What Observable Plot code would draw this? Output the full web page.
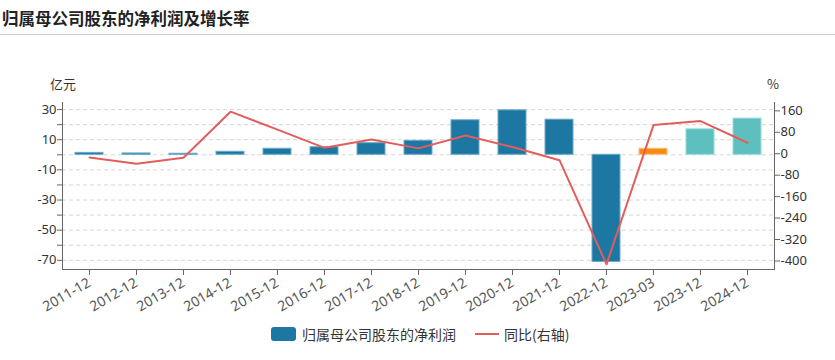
<!DOCTYPE html>
<html>
<head>
<meta charset="utf-8">
<script src="https://cdn.jsdelivr.net/npm/d3@7"></script>
<script src="https://cdn.jsdelivr.net/npm/@observablehq/plot@0.6"></script>
<style>
  html, body { margin: 0; padding: 0; background: #fff; }
  body { width: 835px; height: 360px; position: relative; overflow: hidden;
         font-family: "Noto Sans", "Noto Sans CJK SC", sans-serif; color: #333; }
  #title { position: absolute; left: 2px; top: 6px; font-size: 16.5px; font-weight: bold; color: #222;
           font-family: "Noto Sans CJK SC", sans-serif; }
  #rule { position: absolute; left: 0; top: 34px; width: 835px; height: 1px; background: #cfcfcf; }
  #chart { position: absolute; left: 0; top: 0; }
  .unit { position: absolute; font-size: 13px; color: #333; font-family: "Noto Sans CJK SC", sans-serif; }
  #legend { position: absolute; top: 324px; left: 0; width: 835px; height: 20px; font-size: 14px;
            font-family: "Noto Sans CJK SC", sans-serif; color: #333; }
  .lg { position: absolute; top: 0; line-height: 20px; }
</style>
</head>
<body>
<div id="chart"></div>
<div id="title">归属母公司股东的净利润及增长率</div>
<div id="rule"></div>
<div class="unit" style="left:50px; top:74px;">亿元</div>
<div class="unit" style="left:767px; top:74px;">%</div>
<div id="legend">
  <div class="lg" style="left:271px; top:3px; width:25px; height:14px; background:#1d77a3; border-radius:3px;"></div>
  <div class="lg" style="left:302px;">归属母公司股东的净利润</div>
  <div class="lg" style="left:475px; top:9px; width:24px; height:2px; background:#e35d5d;"></div>
  <div class="lg" style="left:504px;">同比(右轴)</div>
</div>
<script>
const categories = ["2011-12","2012-12","2013-12","2014-12","2015-12","2016-12","2017-12","2018-12","2019-12","2020-12","2021-12","2022-12","2023-03","2023-12","2024-12"];
const profit = [1.3, 0.9, 0.7, 2.0, 4.0, 5.0, 7.7, 9.3, 22.9, 29.5, 23.3, -71.1, 4.0, 16.9, 24.0];
const growth = [-14, -37, -15, 157, 90, 22, 53, 20, 68, 25, -24, -413, 107, 122, 41];
const kinds = ["actual","actual","actual","actual","actual","actual","actual","actual","actual","actual","actual","actual","quarter","forecast","forecast"];
const leftTicks = [-70,-60,-50,-40,-30,-20,-10,0,10,20,30];
const leftLabels = [30,10,-10,-30,-50,-70];
const rightTicks = [160,80,0,-80,-160,-240,-320,-400];

const fillOf = {actual: "#1d77a3", quarter: "#f78b10", forecast: "#5ebfbf"};
const strokeOf = {actual: "#6aa9c8", quarter: "#fbbf7a", forecast: "#9adada"};

// right axis (%) mapped into left-axis units
const K = 0.1778, OFF = 0.7;
const toLeft = r => OFF + K * r;
const fromLeft = l => (l - OFF) / K;

const data = categories.map((c, i) => ({cat: c, profit: profit[i], growth: growth[i], kind: kinds[i]}));
const yMin = -76.1, yMax = 34.7;

const chart = Plot.plot({
  width: 835,
  height: 360,
  marginLeft: 62,
  marginRight: 61,
  marginTop: 102,
  marginBottom: 91,
  style: {fontFamily: "'Noto Sans', 'Noto Sans CJK SC', sans-serif", fontSize: "13px", color: "#333", background: "transparent", overflow: "visible"},
  x: {domain: categories, paddingInner: 0.4, paddingOuter: 0.2, label: null},
  y: {domain: [yMin, yMax], label: null},
  marks: [
    Plot.gridY(leftTicks, {stroke: "#d6d6d6", strokeOpacity: 1, strokeDasharray: "4,3"}),
    Plot.barY(data, {x: "cat", y: "profit", fill: d => fillOf[d.kind], stroke: d => strokeOf[d.kind], strokeWidth: 1}),
    Plot.lineY(data, {x: "cat", y: d => toLeft(d.growth), stroke: "#e35d5d", strokeWidth: 2}),
    Plot.frame({anchor: "left", stroke: "#666"}),
    Plot.frame({anchor: "right", stroke: "#666"}),
    Plot.frame({anchor: "bottom", stroke: "#666"}),
    Plot.axisY({ticks: leftTicks, tickSize: 5, tickPadding: 1, stroke: "#666", fill: "#333",
      tickFormat: d => leftLabels.includes(d) ? String(d) : "", label: null}),
    Plot.axisY({anchor: "right", ticks: rightTicks.map(toLeft), tickSize: 5, tickPadding: 1, stroke: "#666", fill: "#333",
      tickFormat: d => String(Math.round(fromLeft(d))), label: null}),
    Plot.axisX({tickSize: 6, tickRotate: -30, tickPadding: 6, stroke: "#666", fill: "#555", fontSize: 14, label: null})
  ]
});
document.getElementById("chart").appendChild(chart);
</script>
</body>
</html>
